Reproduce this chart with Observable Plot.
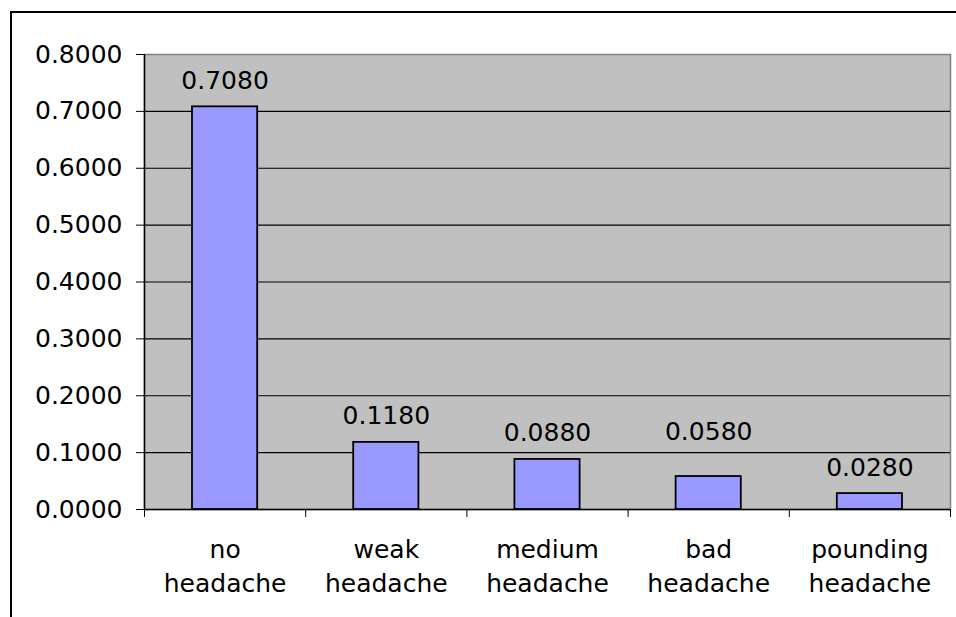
<!DOCTYPE html>
<html>
<head>
<meta charset="utf-8">
<script src="https://cdn.jsdelivr.net/npm/d3@7"></script>
<script src="https://cdn.jsdelivr.net/npm/@observablehq/plot@0.6"></script>
<style>
  html, body { margin: 0; padding: 0; background: #fff; overflow: hidden; }
  #wrap { position: relative; width: 956px; height: 617px; }
  #frame { position: absolute; left: 10px; top: 11px; width: 1000px; height: 700px;
           border-left: 2px solid #000; border-top: 2px solid #000; pointer-events: none; }
  svg { display: block; }
</style>
</head>
<body>
<div id="wrap"><div id="frame"></div></div>
<script>
const categories = ["no\nheadache", "weak\nheadache", "medium\nheadache", "bad\nheadache", "pounding\nheadache"];
const values = [0.708, 0.118, 0.088, 0.058, 0.028];
const yTicks = [0, 0.1, 0.2, 0.3, 0.4, 0.5, 0.6, 0.7, 0.8];

const data = categories.map((c, i) => ({i, category: c, value: values[i]}));
const fmt = d3.format(".4f");
const labelStyle = {x: d => d.i + 0.5, y: "value", text: d => fmt(d.value), lineAnchor: "bottom", fontSize: 25, fill: "#000"};

const chart = Plot.plot({
  width: 956,
  height: 617,
  marginLeft: 144,
  marginRight: 6,
  marginTop: 54,
  marginBottom: 108,
  style: {fontFamily: "'DejaVu Sans', Verdana, sans-serif", fontSize: "25px", color: "#000", background: "transparent"},
  x: {type: "linear", domain: [0, categories.length]},
  y: {domain: [0, 0.8]},
  marks: [
    Plot.frame({fill: "#C0C0C0", stroke: "#808080", strokeWidth: 1.5}),
    Plot.gridY(yTicks.filter(t => t > 0 && t < 0.8), {stroke: "#000", strokeOpacity: 1, strokeWidth: 1.2}),
    Plot.rectY(data, {x1: d => d.i, x2: d => d.i + 1, y: "value", fill: "#9999FF", stroke: "#000", strokeWidth: 1.8, insetLeft: 48, insetRight: 48}),
    Plot.text(data.filter(d => d.i !== 3), {...labelStyle, dy: -18}),
    Plot.text(data.filter(d => d.i === 3), {...labelStyle, dy: -37}),
    Plot.ruleX([0], {stroke: "#000", strokeWidth: 1.5}),
    Plot.ruleY([0], {stroke: "#000", strokeWidth: 1.5}),
    Plot.axisY({ticks: yTicks, tickFormat: fmt, tickSize: 8, tickPadding: 14, label: null, fontSize: 25}),
    Plot.axisX({ticks: d3.range(categories.length + 1), tickSize: 8, tickFormat: () => "", label: null}),
    Plot.axisX({ticks: data.map(d => d.i + 0.5), tickSize: 0, tickPadding: 24, lineHeight: 1.38,
                tickFormat: v => categories[Math.floor(v)], label: null, fontSize: 25})
  ]
});
document.getElementById("wrap").prepend(chart);
</script>
</body>
</html>
